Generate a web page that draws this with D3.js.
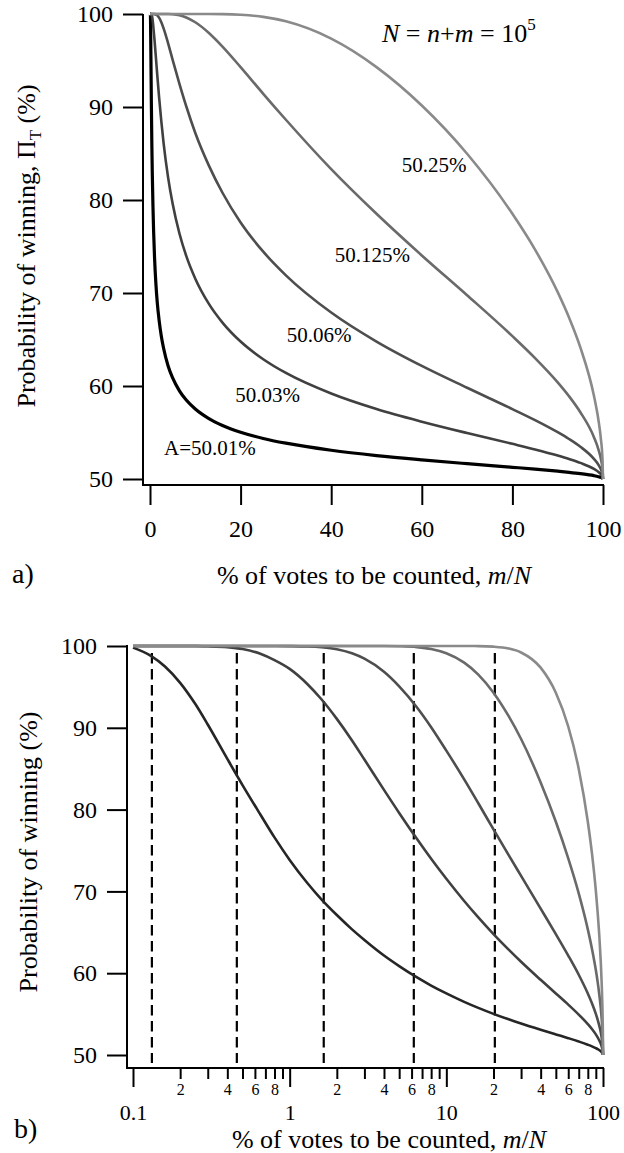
<!DOCTYPE html>
<html>
<head>
<meta charset="utf-8">
<script src="https://cdn.jsdelivr.net/npm/d3@7"></script>
<style>
  html, body { margin: 0; padding: 0; background: #fff; }
  svg { display: block; }
  text { font-family: "Liberation Serif", "Times New Roman", serif; fill: #000; }
</style>
</head>
<body>
<svg id="chart" width="624" height="1153"></svg>
<script>
// ---- data -------------------------------------------------------------
// share of votes still to be counted, m/N (%)
const pctCounted = [0, 0.05, 0.1, 0.13, 0.16, 0.2, 0.25, 0.3, 0.4, 0.5,
  0.65, 0.8, 1, 1.3, 1.6, 2, 2.5, 3, 4, 5,
  6.5, 8, 10, 13, 16, 20, 25, 30, 40, 50,
  60, 70, 80, 85, 90, 92.5, 95, 98, 99, 99.5,
  99.9, 100];

// probability of winning (%) for each current vote share A
const win5001 = [100, 100, 99.8, 98.8, 97.5, 95.5, 92.9, 90.4, 86.2, 83.0,
  79.4, 76.6, 73.85, 71.0, 69.0, 67.11, 65.36, 64.06, 62.16, 60.87,
  59.48, 58.49, 57.53, 56.50, 55.76, 55.03, 54.36, 53.85, 53.09, 52.52,
  52.06, 51.65, 51.26, 51.06, 50.84, 50.72, 50.58, 50.36, 50.25, 50.18,
  50.08, 50];
const win5003 = [100, 100, 100, 100, 100, 100, 100, 99.97, 99.86, 99.63,
  99.05, 98.27, 97.20, 95.33, 93.46, 91.09, 88.45, 86.12, 82.41, 79.59,
  76.40, 73.99, 71.54, 68.83, 66.82, 64.78, 62.88, 61.40, 59.19, 57.52,
  56.16, 54.94, 53.78, 53.18, 52.52, 52.15, 51.73, 51.08, 50.76, 50.54,
  50.24, 50];
const win5006 = [100, 100, 100, 100, 100, 100, 100, 100, 100, 100,
  100, 100, 99.99, 99.95, 99.85, 99.61, 99.11, 98.45, 96.85, 95.07,
  92.49, 90.08, 87.21, 83.70, 80.78, 77.58, 74.44, 71.90, 67.90, 64.78,
  62.16, 59.81, 57.52, 56.33, 55.03, 54.30, 53.47, 52.16, 51.52, 51.07,
  50.48, 50];
const win50125 = [100, 100, 100, 100, 100, 100, 100, 100, 100, 100,
  100, 100, 100, 100, 100, 100, 100, 100, 100, 99.97,
  99.86, 99.63, 99.11, 97.96, 96.50, 94.29, 91.42, 88.63, 83.32, 78.52,
  74.04, 69.76, 65.36, 63.00, 60.39, 58.90, 57.18, 54.50, 53.17, 52.23,
  51.00, 50];
const win5025 = [100, 100, 100, 100, 100, 100, 100, 100, 100, 100,
  100, 100, 100, 100, 100, 100, 100, 100, 100, 100,
  100, 100, 100, 100, 99.99, 99.92, 99.69, 99.21, 97.35, 94.29,
  90.16, 84.97, 78.52, 74.67, 70.09, 67.36, 64.15, 58.94, 56.32, 54.46,
  51.99, 50];

const seriesLabels = ["A=50.01%", "50.03%", "50.06%", "50.125%", "50.25%"];
const seriesValues = [win5001, win5003, win5006, win50125, win5025];
// where each curve is labelled in panel a): [m/N %, probability %]
const labelAt = [[3.1, 52.6], [18.8, 58.3], [30.2, 64.7], [40.8, 73.3], [55.6, 83.0]];

// reference counts marked by dashed verticals in panel b) (%)
const markerPct = [0.132, 0.46, 1.65, 6.2, 20.4];

const yTicks = [50, 60, 70, 80, 90, 100];
const xTicksTop = [0, 20, 40, 60, 80, 100];
const xMajorBottom = [0.1, 1, 10, 100];
const xMinorBottom = [0.2, 0.3, 0.4, 0.5, 0.6, 0.7, 0.8, 0.9,
  2, 3, 4, 5, 6, 7, 8, 9, 20, 30, 40, 50, 60, 70, 80, 90];

// ---- styling ----------------------------------------------------------
const strokes = ["#000000", "#404040", "#4e4e4e", "#6a6a6a", "#8a8a8a"];
const widthsTop = [3.2, 2.6, 2.6, 2.6, 2.6];
const strokesBottom = ["#262626", "#404040", "#4e4e4e", "#6a6a6a", "#8a8a8a"];
const widthsBottom = [2.6, 2.6, 2.6, 2.6, 2.6];

const svg = d3.select("#chart");

function styleAxis(g, fontSize) {
  g.select(".domain").remove();
  g.selectAll(".tick line").attr("stroke", "#000").attr("stroke-width", 2);
  g.selectAll(".tick text").attr("font-size", fontSize)
    .attr("font-family", "Liberation Serif, Times New Roman, serif").attr("fill", "#000");
}

// ---- panel a) linear axes ---------------------------------------------
const xTop = d3.scaleLinear().domain([0, 100]).range([150, 603]);
const yTop = d3.scaleLinear().domain([50, 100]).range([479, 14]);

const gA = svg.append("g");

// axis lines (offset from the data origin)
gA.append("line").attr("x1", 143).attr("x2", 143).attr("y1", 14).attr("y2", 486)
  .attr("stroke", "#000").attr("stroke-width", 2);
gA.append("line").attr("x1", 142).attr("x2", 604).attr("y1", 485).attr("y2", 485)
  .attr("stroke", "#000").attr("stroke-width", 2);

gA.append("g").attr("transform", "translate(143,0)")
  .call(d3.axisLeft(yTop).tickValues(yTicks).tickSize(20).tickPadding(10).tickSizeOuter(0))
  .call(g => styleAxis(g, 24));
gA.append("g").attr("transform", "translate(0,485)")
  .call(d3.axisBottom(xTop).tickValues(xTicksTop).tickSize(20).tickPadding(15).tickSizeOuter(0))
  .call(g => styleAxis(g, 24));

const lineTop = d3.line()
  .x((d, i) => xTop(pctCounted[i]))
  .y(d => yTop(d))
  .curve(d3.curveMonotoneX);

gA.append("g").selectAll("path").data(seriesValues).join("path")
  .attr("d", d => lineTop(d))
  .attr("fill", "none")
  .attr("stroke", (d, i) => strokes[i])
  .attr("stroke-width", (d, i) => widthsTop[i])
  .attr("stroke-linejoin", "round");

gA.append("g").selectAll("text").data(seriesLabels).join("text")
  .attr("x", (d, i) => xTop(labelAt[i][0]))
  .attr("y", (d, i) => yTop(labelAt[i][1]))
  .attr("font-size", 21)
  .text(d => d);

// N = n+m = 10^5
const formula = gA.append("text").attr("x", 382).attr("y", 42).attr("font-size", 26);
formula.append("tspan").attr("font-style", "italic").text("N");
formula.append("tspan").text(" = ");
formula.append("tspan").attr("font-style", "italic").text("n");
formula.append("tspan").text("+");
formula.append("tspan").attr("font-style", "italic").text("m");
formula.append("tspan").text(" = 10");
formula.append("tspan").attr("font-size", 17).attr("dy", -12).text("5");

// axis titles
const yTitleA = gA.append("text")
  .attr("transform", "translate(35,246) rotate(-90)")
  .attr("text-anchor", "middle").attr("font-size", 26);
yTitleA.append("tspan").text("Probability of winning, \u03A0");
yTitleA.append("tspan").attr("font-size", 17).attr("dy", 6).text("T");
yTitleA.append("tspan").attr("dy", -6).text(" (%)");

const xTitleA = gA.append("text").attr("x", 374).attr("y", 584)
  .attr("text-anchor", "middle").attr("font-size", 26);
xTitleA.append("tspan").text("% of votes to be counted, ");
xTitleA.append("tspan").attr("font-style", "italic").text("m");
xTitleA.append("tspan").text("/");
xTitleA.append("tspan").attr("font-style", "italic").text("N");

gA.append("text").attr("x", 12).attr("y", 583).attr("font-size", 28).text("a)");

// ---- panel b) logarithmic x axis --------------------------------------
const xBot = d3.scaleLog().domain([0.1, 100]).range([133, 603]);
const yBot = d3.scaleLinear().domain([50, 100]).range([1055, 646]);

const gB = svg.append("g");

gB.append("line").attr("x1", 127).attr("x2", 127).attr("y1", 645).attr("y2", 1069)
  .attr("stroke", "#000").attr("stroke-width", 2);
gB.append("line").attr("x1", 126).attr("x2", 604).attr("y1", 1068).attr("y2", 1068)
  .attr("stroke", "#000").attr("stroke-width", 2);

gB.append("g").attr("transform", "translate(127,0)")
  .call(d3.axisLeft(yBot).tickValues(yTicks).tickSize(20).tickPadding(10).tickSizeOuter(0))
  .call(g => styleAxis(g, 24));

gB.append("g").attr("transform", "translate(0,1068)")
  .call(d3.axisBottom(xBot).tickValues(xMajorBottom).tickSize(19).tickPadding(17)
    .tickSizeOuter(0).tickFormat(d => String(d)))
  .call(g => styleAxis(g, 22));

gB.append("g").attr("transform", "translate(0,1068)")
  .call(d3.axisBottom(xBot).tickValues(xMinorBottom).tickSize(11).tickPadding(5)
    .tickSizeOuter(0)
    .tickFormat(d => {
      const lead = Math.round(d / Math.pow(10, Math.floor(Math.log10(d) + 1e-9)));
      return lead % 2 === 0 ? String(lead) : "";
    }))
  .call(g => styleAxis(g, 16));

// dashed reference lines
gB.append("g").selectAll("line").data(markerPct).join("line")
  .attr("x1", d => xBot(d)).attr("x2", d => xBot(d))
  .attr("y1", 653).attr("y2", 1063)
  .attr("stroke", "#000").attr("stroke-width", 2.2)
  .attr("stroke-dasharray", "10.5,5.5");

const lineBot = d3.line()
  .defined((d, i) => pctCounted[i] >= 0.1)
  .x((d, i) => xBot(Math.max(pctCounted[i], 0.1)))
  .y(d => yBot(d))
  .curve(d3.curveMonotoneX);

gB.append("g").selectAll("path").data(seriesValues).join("path")
  .attr("d", d => lineBot(d))
  .attr("fill", "none")
  .attr("stroke", (d, i) => strokesBottom[i])
  .attr("stroke-width", (d, i) => widthsBottom[i])
  .attr("stroke-linejoin", "round");

gB.append("text")
  .attr("transform", "translate(37,852) rotate(-90)")
  .attr("text-anchor", "middle").attr("font-size", 26)
  .text("Probability of winning (%)");

const xTitleB = gB.append("text").attr("x", 389).attr("y", 1148)
  .attr("text-anchor", "middle").attr("font-size", 26);
xTitleB.append("tspan").text("% of votes to be counted, ");
xTitleB.append("tspan").attr("font-style", "italic").text("m");
xTitleB.append("tspan").text("/");
xTitleB.append("tspan").attr("font-style", "italic").text("N");

gB.append("text").attr("x", 14).attr("y", 1138).attr("font-size", 28).text("b)");
</script>
</body>
</html>
